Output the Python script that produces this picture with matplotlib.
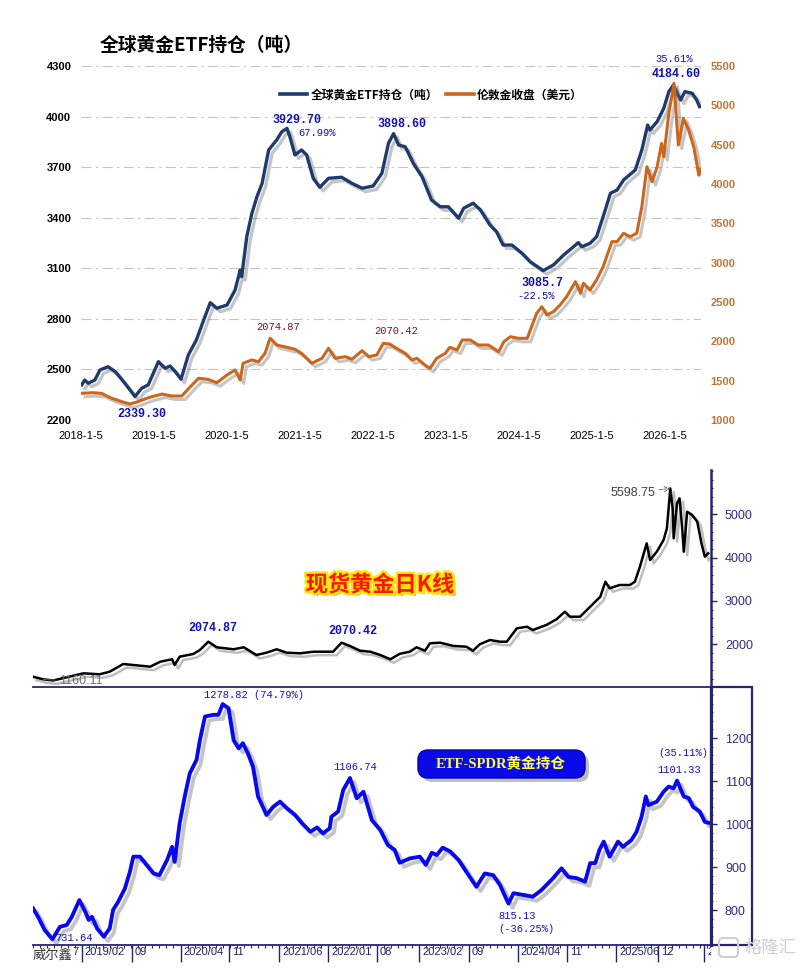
import matplotlib
matplotlib.use('Agg')
import matplotlib.pyplot as plt
import matplotlib.patheffects as pe
import matplotlib.transforms as mtransforms
from matplotlib.patches import FancyBboxPatch, Rectangle
from matplotlib.lines import Line2D
import numpy as np

plt.rcParams['font.family'] = ['Liberation Sans', 'Noto Sans CJK SC', 'DejaVu Sans']

W, H = 803, 968

# ---------------- data ----------------
# top panel: global gold ETF holdings (t), decimal year
etf_t = [2018.01, 2018.05, 2018.10, 2018.19, 2018.26, 2018.37, 2018.47, 2018.60, 2018.74, 2018.83,
         2018.92, 2019.06, 2019.15, 2019.22, 2019.29, 2019.37, 2019.47, 2019.58, 2019.68, 2019.77,
         2019.86, 2020.00, 2020.11, 2020.18, 2020.20, 2020.27, 2020.34, 2020.41, 2020.48, 2020.57,
         2020.68, 2020.75, 2020.82, 2020.86, 2020.93, 2021.02, 2021.09, 2021.18, 2021.27, 2021.39,
         2021.57, 2021.71, 2021.85, 2022.00, 2022.12, 2022.21, 2022.28, 2022.35, 2022.44, 2022.55,
         2022.67, 2022.80, 2022.92, 2023.03, 2023.17, 2023.24, 2023.37, 2023.47, 2023.60, 2023.69,
         2023.78, 2023.90, 2024.04, 2024.15, 2024.33, 2024.47, 2024.61, 2024.72, 2024.81, 2024.86,
         2024.97, 2025.06, 2025.15, 2025.25, 2025.34, 2025.43, 2025.59, 2025.68, 2025.76, 2025.79,
         2025.89, 2025.98, 2026.05, 2026.11, 2026.21, 2026.27, 2026.37, 2026.43, 2026.47]
etf_tons = [2408, 2437, 2418, 2437, 2497, 2516, 2487, 2418, 2339, 2388,
            2408, 2546, 2507, 2520, 2487, 2442, 2586, 2675, 2793, 2896,
            2863, 2882, 2971, 3090, 3050, 3287, 3426, 3525, 3604, 3802,
            3861, 3910, 3930, 3881, 3772, 3802, 3772, 3634, 3580, 3634,
            3640, 3604, 3575, 3588, 3663, 3841, 3899, 3831, 3821, 3723,
            3643, 3505, 3465, 3465, 3397, 3456, 3486, 3446, 3357, 3317,
            3238, 3238, 3189, 3139, 3086, 3120, 3179, 3219, 3252, 3228,
            3248, 3287, 3406, 3545, 3564, 3624, 3683, 3802, 3950, 3920,
            3970, 4049, 4148, 4185, 4098, 4148, 4138, 4098, 4059]

# top panel: London gold close (USD)
ldn_t = [2018.01, 2018.15, 2018.28, 2018.42, 2018.56, 2018.67, 2018.78, 2018.92, 2019.11, 2019.24,
         2019.38, 2019.49, 2019.61, 2019.74, 2019.86, 2020.00, 2020.11, 2020.18, 2020.22, 2020.34,
         2020.43, 2020.52, 2020.59, 2020.68, 2020.82, 2020.93, 2021.02, 2021.16, 2021.30, 2021.39,
         2021.48, 2021.62, 2021.71, 2021.85, 2021.94, 2022.05, 2022.14, 2022.23, 2022.32, 2022.44,
         2022.53, 2022.60, 2022.71, 2022.78, 2022.87, 2022.99, 2023.05, 2023.15, 2023.22, 2023.33,
         2023.44, 2023.58, 2023.72, 2023.79, 2023.88, 2023.99, 2024.11, 2024.17, 2024.24, 2024.31,
         2024.38, 2024.47, 2024.56, 2024.65, 2024.77, 2024.84, 2024.88, 2024.97, 2025.06, 2025.15,
         2025.27, 2025.34, 2025.43, 2025.52, 2025.61, 2025.68, 2025.75, 2025.82, 2025.89, 2025.95,
         2025.98, 2026.05, 2026.12, 2026.18, 2026.25, 2026.32, 2026.39, 2026.46, 2026.48]
ldn_usd = [1339, 1347, 1339, 1276, 1233, 1203, 1233, 1283, 1330, 1305,
           1305, 1416, 1530, 1517, 1474, 1572, 1636, 1508, 1721, 1763,
           1741, 1848, 2040, 1953, 1924, 1899, 1848, 1721, 1784, 1911,
           1784, 1805, 1772, 1881, 1805, 1826, 1975, 1965, 1911, 1848,
           1763, 1784, 1699, 1657, 1784, 1848, 1924, 1890, 2017, 2017,
           1953, 1953, 1868, 1995, 2059, 2038, 2038, 2186, 2356, 2440,
           2335, 2377, 2462, 2567, 2758, 2611, 2738, 2653, 2780, 2949,
           3267, 3267, 3373, 3330, 3373, 3711, 4220, 4029, 4220, 4517,
           4347, 4899, 5280, 4496, 4835, 4686, 4474, 4114, 4178]

etf_ticks = [2200, 2500, 2800, 3100, 3400, 3700, 4000, 4300]
ldn_ticks = [1000, 1500, 2000, 2500, 3000, 3500, 4000, 4500, 5000, 5500]
year_ticks = [2018, 2019, 2020, 2021, 2022, 2023, 2024, 2025, 2026]
year_labels = ['2018-1-5', '2019-1-5', '2020-1-5', '2021-1-5', '2022-1-5',
               '2023-1-5', '2024-1-5', '2025-1-5', '2026-1-5']

# middle panel: spot gold daily close (USD)
spot_t = [2018.50, 2018.62, 2018.74, 2018.90, 2019.10, 2019.29, 2019.41, 2019.57, 2019.69, 2019.89,
          2020.01, 2020.15, 2020.18, 2020.24, 2020.40, 2020.48, 2020.58, 2020.68, 2020.88, 2021.00,
          2021.15, 2021.27, 2021.39, 2021.51, 2021.67, 2021.83, 2022.06, 2022.16, 2022.26, 2022.38,
          2022.50, 2022.62, 2022.74, 2022.85, 2022.97, 2023.05, 2023.15, 2023.21, 2023.33, 2023.49,
          2023.64, 2023.72, 2023.80, 2023.92, 2024.04, 2024.12, 2024.24, 2024.36, 2024.43, 2024.59,
          2024.71, 2024.81, 2024.87, 2024.99, 2025.11, 2025.23, 2025.29, 2025.34, 2025.46, 2025.58,
          2025.64, 2025.70, 2025.78, 2025.82, 2025.90, 2025.98, 2026.02, 2026.06, 2026.09, 2026.10,
          2026.14, 2026.17, 2026.20, 2026.22, 2026.26, 2026.32, 2026.38, 2026.43, 2026.47, 2026.51]
spot_usd = [1252, 1192, 1165, 1238, 1330, 1307, 1367, 1545, 1522, 1483,
            1598, 1654, 1522, 1714, 1776, 1868, 2060, 1931, 1885, 1931,
            1753, 1806, 1885, 1806, 1792, 1829, 1829, 2037, 1961, 1852,
            1829, 1753, 1654, 1780, 1829, 1931, 1852, 2023, 2037, 1961,
            1945, 1852, 2000, 2099, 2060, 2060, 2369, 2406, 2330, 2446,
            2577, 2753, 2637, 2637, 2868, 3099, 3445, 3293, 3369, 3369,
            3445, 3792, 4332, 3947, 4138, 4408, 4678, 5599, 5101, 4448,
            5256, 5371, 4715, 4138, 5061, 4985, 4830, 4332, 4023, 4101]
spot_ticks = [2000, 3000, 4000, 5000]

# bottom panel: SPDR gold holdings (t)
spdr_t = [2018.50, 2018.56, 2018.64, 2018.73, 2018.82, 2018.90, 2018.96, 2019.05, 2019.12, 2019.16,
          2019.20, 2019.26, 2019.34, 2019.41, 2019.45, 2019.51, 2019.59, 2019.65, 2019.69, 2019.77,
          2019.83, 2019.93, 2020.00, 2020.09, 2020.15, 2020.18, 2020.24, 2020.30, 2020.36, 2020.44,
          2020.48, 2020.54, 2020.64, 2020.70, 2020.75, 2020.82, 2020.88, 2020.94, 2020.99, 2021.05,
          2021.11, 2021.17, 2021.27, 2021.35, 2021.43, 2021.51, 2021.61, 2021.69, 2021.79, 2021.87,
          2021.94, 2022.02, 2022.04, 2022.12, 2022.18, 2022.26, 2022.34, 2022.42, 2022.52, 2022.62,
          2022.71, 2022.79, 2022.85, 2022.97, 2023.09, 2023.16, 2023.23, 2023.29, 2023.36, 2023.45,
          2023.55, 2023.64, 2023.76, 2023.86, 2023.96, 2024.04, 2024.14, 2024.20, 2024.32, 2024.43,
          2024.53, 2024.67, 2024.77, 2024.85, 2024.95, 2025.05, 2025.11, 2025.17, 2025.22, 2025.27,
          2025.34, 2025.44, 2025.50, 2025.60, 2025.66, 2025.72, 2025.77, 2025.80, 2025.90, 2025.98,
          2026.04, 2026.10, 2026.14, 2026.22, 2026.28, 2026.33, 2026.41, 2026.47, 2026.51]
spdr_tons = [804, 784, 753, 732, 761, 765, 784, 823, 796, 777,
             784, 757, 738, 757, 800, 819, 850, 889, 924, 924,
             909, 885, 881, 916, 947, 912, 1002, 1064, 1118, 1149,
             1195, 1250, 1254, 1254, 1279, 1269, 1195, 1176, 1188, 1164,
             1133, 1064, 1021, 1040, 1052, 1037, 1021, 1002, 982, 992,
             978, 990, 1017, 1029, 1079, 1107, 1060, 1075, 1009, 986,
             951, 940, 910, 920, 924, 905, 933, 928, 945, 936,
             916, 889, 854, 885, 881, 858, 815, 839, 835, 831,
             846, 874, 897, 877, 874, 866, 909, 909, 940, 959,
             924, 959, 947, 963, 982, 1017, 1064, 1044, 1052, 1075,
             1087, 1083, 1101, 1064, 1060, 1040, 1029, 1005, 1003]
spdr_ticks = [800, 900, 1000, 1100, 1200]
date_ticks = [2018.93, 2019.08, 2019.67, 2020.25, 2020.83, 2021.42, 2022.0, 2022.58,
              2023.08, 2023.67, 2024.25, 2024.83, 2025.42, 2025.92, 2026.46]
date_labels = ['7', '2019/02', '09', '2020/04', '11', '2021/06', '2022/01', '08',
               '2023/02', '09', '2024/04', '11', '2025/06', '12', '2026/05']

# ---------------- helpers ----------------
def fx(px):
    return px / W

def fy(py):
    return 1 - py / H

def box(l, t, r, b):
    return [l / W, 1 - b / H, (r - l) / W, (b - t) / H]

def shade(off=2.5, alpha=0.4):
    return [pe.SimpleLineShadow(offset=(off, -off), shadow_color='#707070', alpha=alpha), pe.Normal()]

NAVY = '#1f3b6d'
ORANGE = '#cc661c'
AXNAVY = '#25256e'
LBLUE = '#1212c0'
MONO = 'Liberation Mono'

fig = plt.figure(figsize=(W / 100, H / 100), dpi=100)

# ================= top panel =================
ax = fig.add_axes(box(81, 66, 701, 420))
ax2 = ax.twinx()
ax.set_xlim(2018.0, 2026.49)
ax.set_ylim(2200, 4300)
ax2.set_ylim(1000, 5500)
for a in (ax, ax2):
    for s in a.spines.values():
        s.set_visible(False)
ax.set_yticks(etf_ticks)
ax2.set_yticks(ldn_ticks)
ax.set_xticks(year_ticks, year_labels)
ax.tick_params(axis='both', length=0)
ax.tick_params(axis='x', labelsize=8, pad=8)
ax.tick_params(axis='y', labelsize=8, pad=7)
ax2.tick_params(axis='y', length=0, labelsize=8, pad=7, labelcolor='#c27636')
for lbl in ax.get_yticklabels() + ax2.get_yticklabels():
    lbl.set_fontweight('bold')
ax.grid(axis='y', color='#c6c6c6', lw=0.8, ls=(0, (9, 4, 2, 4)))
ax.grid(axis='x', visible=False)
ax.set_axisbelow(True)

ax.plot(etf_t, etf_tons, color=NAVY, lw=2.4, solid_joinstyle='round', path_effects=shade())
ax2.plot(ldn_t, ldn_usd, color=ORANGE, lw=2.2, solid_joinstyle='round', path_effects=shade())

handles = [Line2D([], [], color=NAVY, lw=2.6), Line2D([], [], color=ORANGE, lw=2.6)]
ax2.legend(handles, ['全球黄金ETF持仓（吨）', '伦敦金收盘（美元）'], loc='center left',
           bbox_to_anchor=(0.321, 0.918), ncol=2, frameon=False,
           prop=dict(family=['Noto Sans CJK SC'], weight='bold', size=8.5),
           handlelength=2.3, handletextpad=0.3, columnspacing=0.7,
           borderpad=0, borderaxespad=0)

fig.text(fx(100), fy(45), '全球黄金ETF持仓（吨）', family=['Noto Sans CJK SC'],
         weight='bold', size=13.5, va='center', ha='left')

top_notes = [
    ('3929.70', 297, 120, True), ('67.99%', 317, 133, False),
    ('3898.60', 402, 124, True), ('35.61%', 674, 59, False),
    ('4184.60', 676, 74, True), ('3085.7', 542, 283, True),
    ('-22.5%', 536, 296, False), ('2339.30', 142, 414, True),
]
for s, x, y, bold in top_notes:
    fig.text(fx(x), fy(y), s, family=MONO, weight='bold' if bold else 'normal',
             size=8.5 if bold else 7.5, color='#1010b8', ha='center', va='center')
for s, x, y in [('2074.87', 278, 327), ('2070.42', 396, 331)]:
    fig.text(fx(x), fy(y), s, family=MONO, size=7.5, color='#7a0f22', ha='center', va='center')

# ================= middle panel =================
axm = fig.add_axes(box(33, 470, 711, 687))
axm.set_xlim(2018.5, 2026.543)
axm.set_ylim(1014, 6025)
axm.patch.set_alpha(0)
for k in ('top', 'left'):
    axm.spines[k].set_visible(False)
axm.spines['bottom'].set_color(AXNAVY)
axm.spines['bottom'].set_linewidth(1.3)
axm.spines['right'].set_color(AXNAVY)
axm.spines['right'].set_linewidth(1.8)
axm.yaxis.tick_right()
axm.set_yticks(spot_ticks)
axm.set_yticks(np.arange(1200, 6001, 200), minor=True)
axm.set_xticks([])
axm.tick_params(axis='y', which='major', direction='out', length=4, width=1,
                color=AXNAVY, labelsize=9, labelcolor='#2e2e80', pad=6)
axm.tick_params(axis='y', which='minor', direction='out', length=1.5, width=0.8, color=AXNAVY)
axm.plot(spot_t, spot_usd, color='black', lw=1.8, path_effects=shade(2.5, 0.45))

fig.text(fx(380), fy(585), '现货黄金日K线', family=['Noto Sans CJK SC'], weight='black',
         size=16, color='#ff1500', ha='center', va='center',
         path_effects=[pe.SimplePatchShadow(offset=(2, -2), shadow_rgbFace='#909090', alpha=0.6),
                       pe.Stroke(linewidth=3.5, foreground='#ffe800'), pe.Normal()])
for s, x, y in [('2074.87', 213, 628), ('2070.42', 353, 631)]:
    fig.text(fx(x), fy(y), s, family=MONO, weight='bold', size=8.5, color='#1010b8',
             ha='center', va='center')
axm.annotate('5598.75', xy=(2026.06, 5599), xytext=(655, H - 493), textcoords='figure pixels',
             ha='right', va='center', fontsize=9, color='#404040',
             arrowprops=dict(arrowstyle='->', color='#505050', lw=0.6, ls='--', shrinkA=1, shrinkB=0))
axm.annotate('1160.11', xy=(2018.62, 1185), xytext=(59, H - 681), textcoords='figure pixels',
             ha='left', va='center', fontsize=9, color='#707070',
             arrowprops=dict(arrowstyle='-', color='#707070', lw=0.6, shrinkA=0, shrinkB=0))

# ================= bottom panel =================
axb = fig.add_axes(box(33, 687, 711, 945))
axb.set_xlim(2018.5, 2026.543)
axb.set_ylim(718.6, 1318.7)
axb.patch.set_alpha(0)
for k in ('top', 'left'):
    axb.spines[k].set_visible(False)
axb.spines['bottom'].set_color(AXNAVY)
axb.spines['bottom'].set_linewidth(1.3)
axb.spines['right'].set_color(AXNAVY)
axb.spines['right'].set_linewidth(2.2)
axb.yaxis.tick_right()
axb.set_yticks(spdr_ticks)
axb.set_yticks(np.arange(720, 1320, 20), minor=True)
axb.tick_params(axis='y', which='major', direction='out', length=4, width=1,
                color=AXNAVY, labelsize=9, labelcolor='#2e2e80', pad=6)
axb.tick_params(axis='y', which='minor', direction='out', length=1.5, width=0.8, color=AXNAVY)
axb.set_xticks(date_ticks[1:])
axb.set_xticks(np.arange(2018.5, 2026.54, 1 / 12), minor=True)
axb.tick_params(axis='x', which='major', direction='out', length=12, width=1,
                color=AXNAVY, labelbottom=False)
axb.tick_params(axis='x', which='minor', direction='out', length=2.5, width=0.8, color=AXNAVY)
axb.plot(spdr_t, spdr_tons, color='#0808ee', lw=2.8, solid_joinstyle='round',
         path_effects=shade(3, 0.4))

lab_tr = mtransforms.offset_copy(axb.get_xaxis_transform(), fig=fig, x=3, y=-2, units='dots')
clip = mtransforms.TransformedBbox(mtransforms.Bbox([[0, 0], [711 / W, 1]]), fig.transFigure)
for t, s in zip(date_ticks, date_labels):
    txt = axb.text(t, 0, s, transform=lab_tr, ha='left', va='top', fontsize=8,
                   color='#202066', clip_on=True)
    txt.set_clip_box(clip)

fig.text(fx(33), fy(955), '威尔鑫', family=['Noto Sans CJK SC'], size=9.5, color='#333333',
         ha='left', va='center')

bot_notes = [('1278.82 (74.79%)', 204, 695), ('1106.74', 333, 767), ('731.64', 55, 938),
             ('815.13', 498, 916), ('(-36.25%)', 498, 929), ('(35.11%)', 658, 753),
             ('1101.33', 657, 770)]
for s, x, y in bot_notes:
    fig.text(fx(x), fy(y), s, family=MONO, size=7.5, color=LBLUE, ha='left', va='center')

# right-hand box of the bottom axis
fig.add_artist(Rectangle((fx(711), fy(945)), fx(752) - fx(711), fy(687) - fy(945),
                         transform=fig.transFigure, fill=False, ec=AXNAVY, lw=1.6))

# ETF-SPDR label
fig.add_artist(FancyBboxPatch((4.22, (H - 782) / 100), 1.67, 0.28,
                              boxstyle='round,pad=0,rounding_size=0.1',
                              transform=fig.dpi_scale_trans, fc='#8a8a8a', ec='none', alpha=0.55))
fig.add_artist(FancyBboxPatch((4.18, (H - 778) / 100), 1.67, 0.28,
                              boxstyle='round,pad=0,rounding_size=0.1',
                              transform=fig.dpi_scale_trans, fc='#0a0ae8', ec='#0000a0', lw=1))
fig.text(fx(501), fy(764), 'ETF-SPDR黄金持仓', family=['Liberation Serif', 'Noto Sans CJK SC'],
         weight='bold', size=10.5, color='#ffff3a', ha='center', va='center')

# watermark
fig.add_artist(FancyBboxPatch((7.19, (H - 957) / 100), 0.19, 0.19,
                              boxstyle='round,pad=0,rounding_size=0.04',
                              transform=fig.dpi_scale_trans, fill=False, ec='#cfcfcf', lw=1.5))
fig.text(fx(745), fy(948), '格隆汇', family=['Noto Sans CJK SC'], size=12.5, color='#cfcfcf',
         ha='left', va='center')

fig.savefig('out.png', dpi=100)
